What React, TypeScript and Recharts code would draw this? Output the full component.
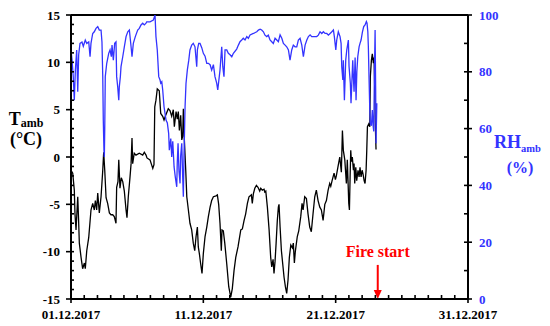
import React from 'react';
import { LineChart, Line, XAxis, YAxis, ReferenceLine } from 'recharts';

// Days since 01.12.2017 00:00
const tempDays = [0.00,0.13,0.25,0.30,0.38,0.51,0.57,0.63,0.76,0.88,1.01,1.08,1.19,1.34,1.51,1.64,1.76,1.84,1.94,2.02,2.14,2.27,2.40,2.47,2.55,2.65,2.77,2.90,3.02,3.15,3.27,3.40,3.45,3.55,3.61,3.70,3.80,3.91,4.03,4.16,4.23,4.33,4.46,4.54,4.61,4.66,4.78,4.91,5.16,5.42,5.54,5.67,5.74,5.97,6.18,6.27,6.33,6.42,6.52,6.67,6.78,6.93,7.03,7.18,7.35,7.48,7.61,7.73,7.81,7.94,8.03,8.11,8.19,8.29,8.37,8.44,8.49,8.56,8.67,8.75,8.87,8.99,9.12,9.24,9.35,9.45,9.55,9.62,9.70,9.80,9.90,10.00,10.13,10.26,10.38,10.51,10.63,10.76,10.96,11.06,11.16,11.26,11.36,11.41,11.51,11.62,11.77,11.92,12.07,12.19,12.32,12.45,12.62,12.83,12.95,13.08,13.20,13.33,13.45,13.63,13.70,13.78,13.89,14.01,14.13,14.26,14.34,14.46,14.59,14.64,14.72,14.84,14.97,15.09,15.17,15.27,15.34,15.42,15.50,15.59,15.67,15.72,15.80,15.90,16.00,16.10,16.20,16.30,16.40,16.50,16.61,16.73,16.80,16.88,16.95,17.10,17.21,17.36,17.46,17.54,17.66,17.79,17.91,18.04,18.16,18.29,18.42,18.54,18.67,18.80,18.92,19.05,19.18,19.30,19.43,19.55,19.63,19.73,19.88,19.98,20.05,20.18,20.31,20.43,20.51,20.58,20.69,20.81,20.88,20.99,21.04,21.09,21.14,21.19,21.26,21.34,21.39,21.44,21.52,21.59,21.69,21.77,21.84,21.92,22.00,22.07,22.15,22.22,22.30,22.35,22.40,22.50,22.58,22.62,22.70,22.77,22.85,22.90,22.96,23.00,23.05];
const tempValues = [-1.4,-1.7,-3.5,-6.0,-7.7,-4.2,-6.5,-9.1,-10.6,-11.8,-11.2,-11.8,-9.9,-8.5,-5.6,-4.9,-5.6,-4.6,-5.6,-3.8,-5.9,-4.2,-1.4,0.5,-1.4,-4.3,-4.9,-5.9,-6.1,-6.1,-6.3,-7.0,-3.2,-2.6,-0.3,-3.3,-2.2,-2.6,-3.6,-5.6,-6.4,-4.2,-2.1,-0.7,2.0,-0.7,0.4,0.2,0.4,0.2,0.5,0.2,-0.1,-0.3,-1.2,-0.8,5.3,6.0,7.2,7.0,4.6,4.3,3.9,4.5,5.1,4.9,4.3,5.0,3.2,4.8,4.0,4.8,2.8,4.4,1.8,2.2,5.1,2.0,-1.4,-4.2,-5.6,-7.0,-7.7,-9.1,-9.9,-8.4,-7.4,-9.5,-10.2,-11.3,-12.3,-10.2,-8.4,-7.4,-6.3,-5.3,-4.6,-4.2,-4.1,-4.0,-5.0,-7.0,-9.9,-7.7,-7.8,-9.1,-11.3,-13.7,-14.8,-13.9,-12.0,-10.6,-9.5,-7.7,-7.6,-6.7,-6.0,-4.9,-4.2,-4.0,-4.9,-3.9,-3.3,-3.0,-3.2,-3.6,-3.3,-3.5,-3.4,-3.7,-3.6,-5.3,-7.7,-10.6,-11.6,-10.8,-12.3,-11.0,-9.1,-6.7,-5.3,-5.0,-7.4,-9.9,-11.3,-12.7,-13.7,-14.4,-13.0,-10.6,-9.3,-9.6,-9.1,-11.2,-10.0,-8.4,-7.8,-6.3,-4.9,-5.6,-4.2,-4.4,-6.0,-7.4,-7.9,-6.0,-4.2,-3.5,-4.6,-5.3,-5.6,-6.7,-5.0,-4.6,-3.5,-2.8,-3.1,-2.5,-1.7,-2.4,-2.0,-1.0,0.0,-1.6,2.8,0.7,-0.3,-2.8,-0.3,-4.9,-5.6,-2.2,0.7,-0.5,0.0,-1.4,-0.7,-2.8,-1.1,-2.5,-1.4,-2.1,-1.1,-2.1,-1.4,-1.8,-2.5,-2.8,-1.4,0.7,3.2,3.5,3.2,8.5,10.2,10.9,9.9,10.5,6.7,3.2,0.8];

const rhDays = [0.00,0.08,0.17,0.25,0.33,0.43,0.51,0.58,0.68,0.83,0.93,1.08,1.19,1.34,1.44,1.51,1.64,1.76,1.89,2.02,2.14,2.27,2.34,2.40,2.44,2.49,2.52,2.55,2.59,2.70,2.85,2.95,3.05,3.10,3.20,3.30,3.40,3.45,3.53,3.61,3.65,3.73,3.78,3.91,4.03,4.16,4.29,4.41,4.54,4.61,4.71,4.86,5.04,5.16,5.29,5.42,5.54,5.67,5.72,5.97,6.22,6.35,6.42,6.52,6.63,6.73,6.78,6.86,6.93,7.03,7.18,7.28,7.38,7.43,7.54,7.61,7.69,7.79,7.88,7.99,8.03,8.09,8.16,8.24,8.29,8.37,8.44,8.49,8.54,8.62,8.69,8.79,8.90,8.99,9.12,9.24,9.37,9.50,9.55,9.65,9.75,9.88,10.00,10.13,10.26,10.38,10.51,10.63,10.76,10.88,11.01,11.09,11.16,11.26,11.39,11.47,11.56,11.64,11.77,11.89,12.02,12.15,12.27,12.52,12.65,12.77,12.90,13.02,13.15,13.28,13.40,13.53,13.78,14.04,14.16,14.29,14.41,14.54,14.66,14.79,14.91,15.04,15.17,15.29,15.42,15.55,15.67,15.80,15.93,16.05,16.18,16.30,16.43,16.55,16.68,16.80,16.93,17.06,17.18,17.31,17.44,17.56,17.69,17.82,17.94,18.07,18.19,18.31,18.57,18.69,18.82,18.95,19.07,19.20,19.33,19.45,19.58,19.71,19.83,19.90,20.01,20.08,20.20,20.33,20.41,20.46,20.54,20.58,20.66,20.76,20.84,20.92,20.96,21.01,21.11,21.16,21.22,21.29,21.34,21.39,21.47,21.54,21.60,21.67,21.77,21.84,21.92,22.02,22.12,22.22,22.32,22.37,22.43,22.47,22.52,22.58,22.62,22.70,22.77,22.83,22.88,22.93,22.98,23.02,23.05,23.11];
const rhValues = [87.7,84.1,78.3,70.0,80.6,87.7,73.0,86.0,90.0,90.5,89.0,91.2,90.0,90.5,85.3,90.0,93.5,94.1,95.3,95.9,94.7,94.7,90.5,78.3,63.0,52.4,50.0,60.0,78.3,83.0,86.5,87.7,85.3,89.4,84.1,90.0,90.5,78.3,74.7,70.0,74.7,78.3,81.8,85.3,88.8,92.4,94.1,94.7,88.8,85.3,90.0,92.4,94.7,95.3,96.5,97.1,96.5,97.1,97.6,97.6,98.2,100.0,92.4,87.7,78.3,77.1,76.0,76.5,73.6,67.7,63.0,62.0,58.3,52.4,56.5,50.0,55.5,46.5,43.0,39.5,48.0,54.8,45.0,40.7,50.5,54.8,43.0,36.0,50.5,67.7,75.9,80.6,84.1,87.7,89.4,90.0,88.8,81.8,87.7,90.0,90.0,88.5,86.5,85.5,83.0,83.0,82.5,80.6,82.5,78.3,76.0,73.6,76.5,80.6,88.8,81.8,78.3,87.7,87.7,86.5,86.0,85.3,86.5,88.0,89.4,90.6,91.2,91.8,91.2,92.4,91.8,93.0,93.5,94.1,94.7,95.0,94.7,94.1,92.9,92.4,92.9,91.2,90.6,90.0,91.8,91.2,90.6,93.0,91.8,90.0,89.4,88.8,87.7,84.1,87.7,89.4,88.8,88.8,91.2,91.8,89.4,85.3,89.4,91.2,92.4,93.0,92.4,92.4,92.4,92.9,94.1,93.5,94.1,93.5,93.5,92.9,93.5,94.1,94.7,92.4,87.7,91.2,94.1,92.4,90.0,81.8,77.1,84.1,70.0,84.1,87.7,90.0,91.2,82.0,75.9,68.9,75.9,84.1,78.0,73.0,85.0,70.0,80.0,85.3,88.8,90.0,91.2,94.0,95.9,96.5,97.7,97.1,94.1,88.8,78.3,66.5,61.8,61.0,66.5,61.0,59.0,80.0,94.7,75.0,54.8,68.9];

const xTickDays = Array.from({ length: 31 }, (_, i) => i);
const xMajorDays = [0, 10, 20, 30];
const xMajorLabels = ['01.12.2017', '11.12.2017', '21.12.2017', '31.12.2017'];
const tempTicks = Array.from({ length: 31 }, (_, i) => i - 15);
const rhTicks = Array.from({ length: 11 }, (_, i) => i * 10);
const fireStartDay = 23.18;
const fireLabel = 'Fire start';

const tempData = tempDays.map((d, i) => ({ d, t: tempValues[i] }));
const rhData = rhDays.map((d, i) => ({ d, rh: rhValues[i] }));

const FONT = "'Liberation Serif', 'Times New Roman', serif";
const BLUE = '#3333ff';
const textStyle = { fontFamily: FONT, fontWeight: 700 as const };

const XTick = (props: any) => {
  const { x, y, payload } = props;
  const idx = xMajorDays.indexOf(payload.value);
  const major = idx >= 0;
  return (
    <g>
      <line x1={x} x2={x} y1={y - 4} y2={major ? y + 4 : y} stroke="#000" strokeWidth={1.6} />
      {major && (
        <text x={x} y={y + 19.5} textAnchor="middle" style={{ ...textStyle, fontSize: 13 }} fill="#000">
          {xMajorLabels[idx]}
        </text>
      )}
    </g>
  );
};

const LeftTick = (props: any) => {
  const { x, y, payload } = props;
  const v = payload.value;
  const major = v % 5 === 0;
  return (
    <g>
      <line x1={major ? x - 5 : x} x2={x + 3} y1={y} y2={y} stroke="#000" strokeWidth={1.6} />
      {major && (
        <text x={x - 11} y={y + 4.5} textAnchor="end" style={{ ...textStyle, fontSize: 13 }} fill="#000">
          {String(v)}
        </text>
      )}
    </g>
  );
};

const RightTick = (props: any) => {
  const { x, y, payload } = props;
  const v = payload.value;
  const major = v % 20 === 0;
  return (
    <g>
      <line x1={x - 4} x2={major ? x + 4 : x} y1={y} y2={y} stroke="#000" strokeWidth={1.6} />
      {major && (
        <text x={x + 11} y={y + 4.5} textAnchor="start" style={{ ...textStyle, fontSize: 13 }} fill={BLUE}>
          {String(v)}
        </text>
      )}
    </g>
  );
};

const FireShape = (props: any) => {
  const { x1, y1, y2 } = props;
  const top = Math.min(y1, y2);
  const bottom = Math.max(y1, y2);
  return (
    <g>
      <line x1={x1} x2={x1} y1={top} y2={bottom - 8} stroke="#ff0000" strokeWidth={2} />
      <polygon points={`${x1 - 4},${bottom - 9} ${x1 + 4},${bottom - 9} ${x1},${bottom}`} fill="#ff0000" />
      <text x={x1} y={top - 7.5} textAnchor="middle" style={{ ...textStyle, fontSize: 16 }} fill="#ff0000">
        {fireLabel}
      </text>
    </g>
  );
};

export default function App() {
  const W = 542;
  const H = 318;
  return (
    <div style={{ position: 'relative', width: W, height: H }}>
      <LineChart width={W} height={H} margin={{ top: 7, right: 0, left: 0, bottom: 0 }}>
        <XAxis
          dataKey="d"
          type="number"
          domain={[0, 30]}
          ticks={xTickDays}
          interval={0}
          tickSize={0}
          tickMargin={0}
          tick={<XTick />}
          axisLine={{ stroke: '#000', strokeWidth: 2 }}
          height={27}
          allowDataOverflow
        />
        <YAxis
          yAxisId="left"
          orientation="left"
          type="number"
          domain={[-15, 15]}
          ticks={tempTicks}
          interval={0}
          tickSize={0}
          tickMargin={0}
          tick={<LeftTick />}
          axisLine={{ stroke: '#000', strokeWidth: 2 }}
          width={63}
          allowDataOverflow
        />
        <YAxis
          yAxisId="right"
          orientation="right"
          type="number"
          domain={[0, 100]}
          ticks={rhTicks}
          interval={0}
          tickSize={0}
          tickMargin={0}
          tick={<RightTick />}
          axisLine={{ stroke: '#000', strokeWidth: 2 }}
          width={82}
          allowDataOverflow
        />
        <ReferenceLine yAxisId="left" y={15} stroke="#000" strokeWidth={2} />
        <Line
          yAxisId="left"
          data={tempData}
          dataKey="t"
          type="linear"
          stroke="#000"
          strokeWidth={1.3}
          dot={false}
          isAnimationActive={false}
        />
        <Line
          yAxisId="right"
          data={rhData}
          dataKey="rh"
          type="linear"
          stroke={BLUE}
          strokeWidth={1.3}
          dot={false}
          isAnimationActive={false}
        />
        <ReferenceLine
          yAxisId="left"
          segment={[{ x: fireStartDay, y: -11.4 }, { x: fireStartDay, y: -15 }]}
          shape={<FireShape />}
          ifOverflow="visible"
        />
      </LineChart>
      <svg width={W} height={H} style={{ position: 'absolute', left: 0, top: 0, pointerEvents: 'none' }}>
        <text x={18} y={117} textAnchor="middle" style={{ ...textStyle, fontSize: 18 }} fill="#000">
          T<tspan style={{ fontSize: 12 }} dy={2}>amb</tspan>
        </text>
        <text x={18} y={137} textAnchor="middle" style={{ ...textStyle, fontSize: 18 }} fill="#000">
          (°C)
        </text>
        <text x={486} y={139.5} textAnchor="start" style={{ ...textStyle, fontSize: 18 }} fill={BLUE}>
          RH<tspan style={{ fontSize: 10.5 }} dy={4}>amb</tspan>
        </text>
        <text x={512} y={164.5} textAnchor="middle" style={{ ...textStyle, fontSize: 16 }} fill={BLUE}>
          (%)
        </text>
      </svg>
    </div>
  );
}
